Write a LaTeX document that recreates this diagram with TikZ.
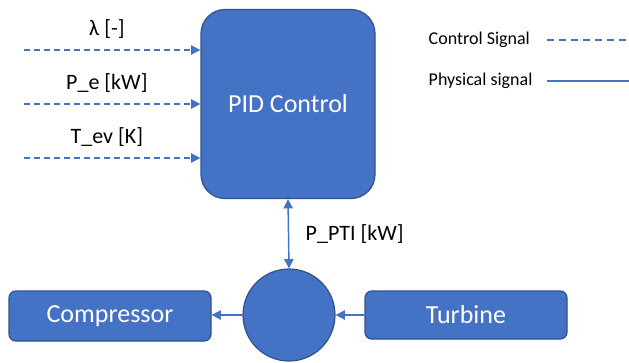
\documentclass[tikz,border=0pt]{standalone}
\usepackage{fontspec}
\setmainfont{Carlito}
\usetikzlibrary{arrows.meta,positioning,shapes}
\definecolor{boxblue}{HTML}{4472C4}
\definecolor{boxedge}{HTML}{2F528F}

\tikzset{
  block/.style={draw=boxedge, fill=boxblue, line width=0.9pt, text=white, font=\fontsize{19.5}{22}\selectfont},
  ctrl/.style={draw=boxblue, line width=1.1pt, dash pattern=on 4.5pt off 3pt, -{Triangle[length=7pt,width=7pt]}},
  phys/.style={draw=boxblue, line width=1.1pt, -{Triangle[length=7pt,width=7pt]}},
  lbl/.style={font=\fontsize{16.5}{19}\selectfont, text=black},
  legend/.style={font=\fontsize{13.5}{15}\selectfont, text=black}
}

\begin{document}
\begin{tikzpicture}[x=0.75pt,y=-0.75pt]
            \useasboundingbox (0,0) rectangle (629,362);
            \clip (0,0) rectangle (629,362);

            % Blocks
            \node[block, rounded corners=18pt, minimum width=130.5pt, minimum height=141.75pt] (pid) at (288,104) {PID Control};
            \node[block, circle, minimum size=69pt, inner sep=0pt] (shaft) at (289,315) {};
            \node[block, rounded corners=5pt, minimum width=151.5pt, minimum height=37.5pt] (comp) at (110,316) {Compressor};
            \node[block, rounded corners=5pt, minimum width=151.5pt, minimum height=36pt] (turb) at (466,315) {Turbine};

            % Control inputs
            \foreach \y/\name/\text in {50/lam/{λ [-]}, 104/pe/{P\_e [kW]}, 158/tev/{T\_ev [K]}} {
                \coordinate (\name) at (24,\y);
                \draw[ctrl] (\name) -- (\name -| pid.west) node[lbl, midway, above=5pt, xshift=-4pt] {\text};
            }

            % Power exchange
            \draw[phys, {Triangle[length=7pt,width=7pt]}-{Triangle[length=7pt,width=7pt]}] (pid.south) -- (shaft.north) node[lbl, midway, right=9pt] {P\_PTI [kW]};
            \draw[phys] (turb.west |- shaft) -- (shaft.east);
            \draw[phys] (shaft.west) -- (comp.east |- shaft);

            % Legend
            \node[legend, anchor=west] (lctrl) at (424,40) {Control Signal};
            \node[legend, anchor=west] (lphys) at (424,81) {Physical signal};
            \coordinate (endctrl) at (629,40);
            \coordinate (endphys) at (629,81);
            \draw[boxblue, line width=1.1pt, dash pattern=on 5.25pt off 3.75pt] (547,40) -- (endctrl);
            \draw[boxblue, line width=1.1pt] (547,81) -- (endphys);
        \end{tikzpicture}
\end{document}
